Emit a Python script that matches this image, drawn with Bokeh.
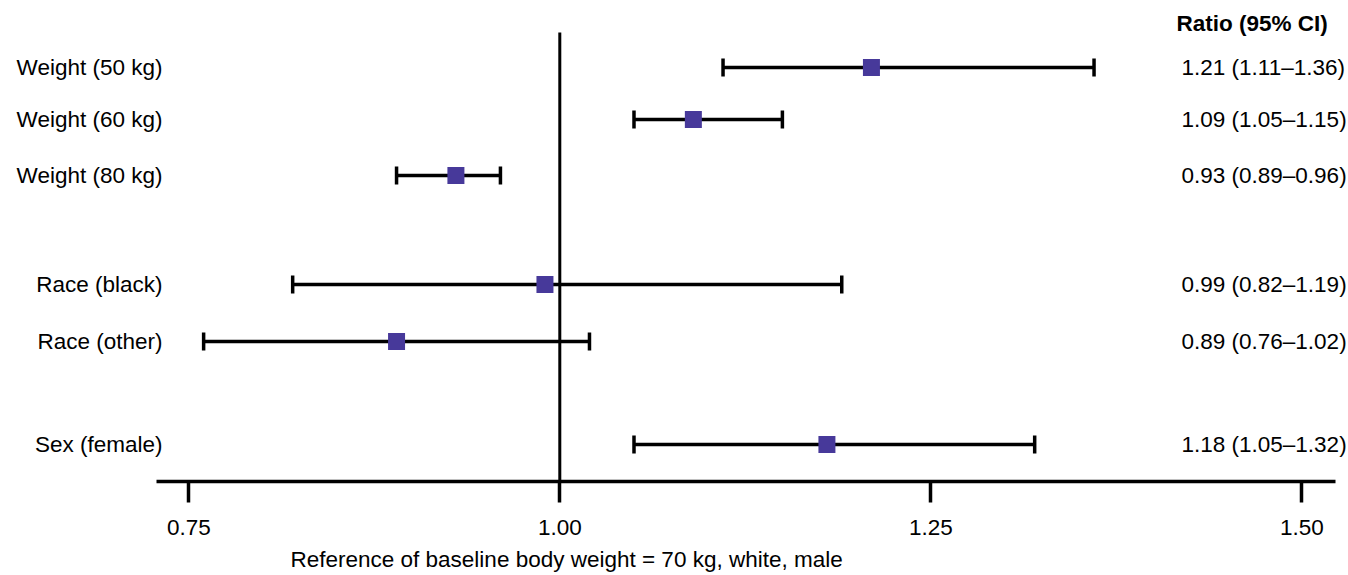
from bokeh.plotting import figure
from bokeh.models import Range1d, FixedTicker, ColumnDataSource
from bokeh.core.properties import value
from bokeh.embed import file_html
from bokeh.resources import INLINE

# ---- data ----
labels = ["Weight (50 kg)", "Weight (60 kg)", "Weight (80 kg)",
          "Race (black)", "Race (other)", "Sex (female)"]
ratio = [1.21, 1.09, 0.93, 0.99, 0.89, 1.18]
lower = [1.11, 1.05, 0.89, 0.82, 0.76, 1.05]
upper = [1.36, 1.15, 0.96, 1.19, 1.02, 1.32]
ci_text = ["1.21 (1.11\u20131.36)", "1.09 (1.05\u20131.15)", "0.93 (0.89\u20130.96)",
           "0.99 (0.82\u20131.19)", "0.89 (0.76\u20131.02)", "1.18 (1.05\u20131.32)"]
tick_values = [0.75, 1.00, 1.25, 1.50]
tick_labels = ["0.75", "1.00", "1.25", "1.50"]
reference = 1.0
header = "Ratio (95% CI)"
x_caption = "Reference of baseline body weight = 70 kg, white, male"

# ---- layout (pixel rows; y range is in page pixels) ----
row_y = [67, 119, 175, 284, 341, 444]
AXIS_Y = 481
FONT = "Liberation Sans"
FS = "22.5px"
PURPLE = "#47399A"

W, H = 1346, 573
p = figure(width=W, height=H, output_backend="svg", toolbar_location=None,
           x_range=Range1d(0.62312, 1.53012), y_range=Range1d(H, 0),
           min_border_left=0, min_border_right=0, min_border_top=0,
           min_border_bottom=0, outline_line_color=None)
p.grid.visible = False
p.yaxis.visible = False
p.background_fill_color = "white"
p.border_fill_color = "white"

ax = p.xaxis[0]
ax.fixed_location = AXIS_Y
ax.ticker = FixedTicker(ticks=tick_values)
ax.major_label_overrides = {v: t for v, t in zip(tick_values, tick_labels)}
ax.bounds = (0.7281, 1.5228)
ax.axis_line_width = 3.5
ax.axis_line_color = "black"
ax.major_tick_line_width = 3.5
ax.major_tick_line_color = "black"
ax.major_tick_in = 0
ax.major_tick_out = 21
ax.minor_tick_line_color = None
ax.major_label_text_font = FONT
ax.major_label_text_font_size = FS
ax.major_label_text_color = "black"
ax.major_label_standoff = 17

src = ColumnDataSource(dict(label=labels, ratio=ratio, lo=lower, hi=upper,
                            ci=ci_text, y=row_y,
                            y0=[y - 9 for y in row_y], y1=[y + 9 for y in row_y]))

# reference line
p.segment(x0=[reference], x1=[reference], y0=[32], y1=[AXIS_Y], line_color="black", line_width=3)

# CI lines and caps
p.segment(x0="lo", x1="hi", y0="y", y1="y", source=src, line_color="black", line_width=3.5)
p.segment(x0="lo", x1="lo", y0="y0", y1="y1", source=src, line_color="black", line_width=3.5)
p.segment(x0="hi", x1="hi", y0="y0", y1="y1", source=src, line_color="black", line_width=3.5)
p.scatter(x="ratio", y="y", source=src, marker="square", size=17,
          fill_color=PURPLE, line_color=None)

x0 = p.x_range.start
x1 = p.x_range.end
p.text(x=x0, y="y", text="label", source=src, x_offset=162,
       text_align="right", text_baseline="middle",
       text_font=value(FONT), text_font_size=FS, text_color="black")
p.text(x=x1, y="y", text="ci", source=src, x_offset=-165,
       text_align="left", text_baseline="middle",
       text_font=value(FONT), text_font_size=FS, text_color="black")
p.text(x=[x1], y=[23], text=[header], x_offset=-170,
       text_align="left", text_baseline="middle",
       text_font=value(FONT), text_font_size=FS, text_font_style="bold",
       text_color="black")
p.text(x=[x0], y=[559], text=[x_caption], x_offset=290,
       text_align="left", text_baseline="middle",
       text_font=value(FONT), text_font_size=FS, text_color="black")

open("out.html", "w").write(file_html(p, INLINE))
